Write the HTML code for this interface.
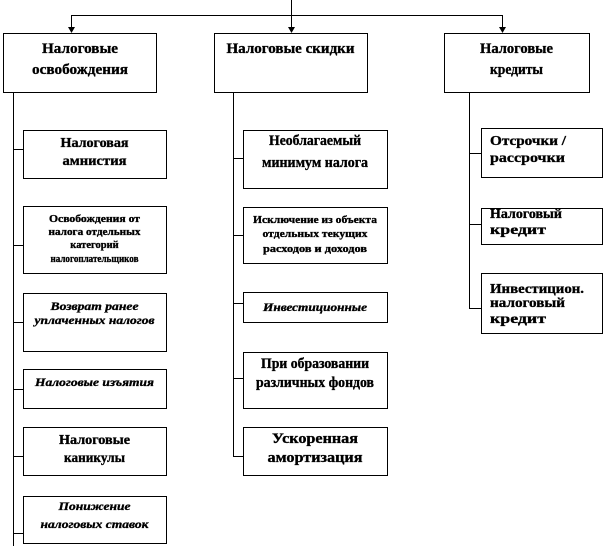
<!DOCTYPE html>
<html><head><meta charset="utf-8">
<style>
html,body{margin:0;padding:0;background:#fff;}
svg{display:block;}
text{font-family:"Liberation Serif","DejaVu Serif",serif;font-weight:bold;fill:#000;stroke:#000;stroke-width:0.35;}
.c{text-anchor:middle;}
.i{font-style:italic;}
</style></head>
<body>
<svg width="605" height="546" viewBox="0 0 605 546" xmlns="http://www.w3.org/2000/svg">
<rect x="0" y="0" width="605" height="546" fill="#fff"/>
<g stroke="#000" stroke-width="1" fill="none">
  <path d="M291.5 0 V28"/>
  <path d="M71 15.5 H503"/>
  <path d="M71.5 15 V28"/>
  <path d="M502.5 15 V28"/>
  <rect x="3.5" y="33.5" width="153" height="59"/>
  <rect x="214.5" y="33.5" width="153" height="59"/>
  <rect x="444.5" y="33.5" width="145" height="59"/>
  <path d="M13.5 92 V546"/>
  <path d="M233.5 92 V456.5"/>
  <path d="M469.5 92 V308.5"/>
  <path d="M13 149.5 H23"/>
  <path d="M13 245.5 H23"/>
  <path d="M13 322.5 H23"/>
  <path d="M13 389.5 H23"/>
  <path d="M13 456.5 H23"/>
  <path d="M13 533.5 H23"/>
  <path d="M233 158.5 H243"/>
  <path d="M233 235.5 H243"/>
  <path d="M233 303.5 H243"/>
  <path d="M233 378.5 H243"/>
  <path d="M233 456.5 H243"/>
  <path d="M469 153.5 H481"/>
  <path d="M469 224.5 H481"/>
  <path d="M469 308.5 H481"/>
  <rect x="23.5" y="130.5" width="143" height="48"/>
  <rect x="23.5" y="206.5" width="143" height="67"/>
  <rect x="23.5" y="293.5" width="143" height="58"/>
  <rect x="23.5" y="369.5" width="143" height="39"/>
  <rect x="23.5" y="427.5" width="143" height="48"/>
  <rect x="23.5" y="496.5" width="143" height="47"/>
  <rect x="243.5" y="130.5" width="144" height="58"/>
  <rect x="243.5" y="207.5" width="144" height="56"/>
  <rect x="243.5" y="292.5" width="144" height="30"/>
  <rect x="243.5" y="352.5" width="144" height="56"/>
  <rect x="243.5" y="427.5" width="144" height="48"/>
  <rect x="481.5" y="128.5" width="121" height="49"/>
  <rect x="481.5" y="208.5" width="121" height="36"/>
  <rect x="481.5" y="273.5" width="121" height="60"/>
</g>
<g fill="#000">
  <polygon points="68,27 75,27 71.5,33"/>
  <polygon points="288,27 295,27 291.5,33"/>
  <polygon points="499,27 506,27 502.5,33"/>
</g>

<text class="c" x="80" y="53" font-size="15" textLength="76" lengthAdjust="spacingAndGlyphs">Налоговые</text>
<text class="c" x="80" y="74" font-size="15" textLength="96" lengthAdjust="spacingAndGlyphs">освобождения</text>
<text class="c" x="290.5" y="53" font-size="15" textLength="128" lengthAdjust="spacingAndGlyphs">Налоговые скидки</text>
<text class="c" x="516.5" y="53" font-size="15" textLength="73" lengthAdjust="spacingAndGlyphs">Налоговые</text>
<text class="c" x="516.5" y="74" font-size="15" textLength="53" lengthAdjust="spacingAndGlyphs">кредиты</text>

<text class="c" x="94.5" y="147" font-size="14" textLength="68" lengthAdjust="spacingAndGlyphs">Налоговая</text>
<text class="c" x="94.5" y="165" font-size="14" textLength="64" lengthAdjust="spacingAndGlyphs">амнистия</text>

<text class="c" x="94.5" y="222" font-size="10.5" textLength="91" lengthAdjust="spacingAndGlyphs">Освобождения от</text>
<text class="c" x="94.5" y="235" font-size="10.5" textLength="92" lengthAdjust="spacingAndGlyphs">налога отдельных</text>
<text class="c" x="94.5" y="248" font-size="10.5">категорий</text>
<text class="c" x="94.5" y="262" font-size="10.5" textLength="88" lengthAdjust="spacingAndGlyphs">налогоплательщиков</text>

<text class="c i" x="94.5" y="310" font-size="12" textLength="88" lengthAdjust="spacingAndGlyphs">Возврат ранее</text>
<text class="c i" x="94.5" y="324" font-size="12" textLength="120" lengthAdjust="spacingAndGlyphs">уплаченных налогов</text>

<text class="c i" x="94.5" y="386" font-size="12" textLength="119" lengthAdjust="spacingAndGlyphs">Налоговые изъятия</text>

<text class="c" x="94.5" y="444" font-size="14" textLength="71" lengthAdjust="spacingAndGlyphs">Налоговые</text>
<text class="c" x="94.5" y="462" font-size="14" textLength="61" lengthAdjust="spacingAndGlyphs">каникулы</text>

<text class="c i" x="94.5" y="510" font-size="12" textLength="72" lengthAdjust="spacingAndGlyphs">Понижение</text>
<text class="c i" x="94.5" y="528" font-size="12" textLength="108" lengthAdjust="spacingAndGlyphs">налоговых ставок</text>

<text class="c" x="315" y="145" font-size="14.5" textLength="92" lengthAdjust="spacingAndGlyphs">Необлагаемый</text>
<text class="c" x="315" y="167" font-size="14.5" textLength="106" lengthAdjust="spacingAndGlyphs">минимум налога</text>

<text class="c" x="315" y="223" font-size="11" textLength="124" lengthAdjust="spacingAndGlyphs">Исключение из объекта</text>
<text class="c" x="315" y="237" font-size="11" textLength="105" lengthAdjust="spacingAndGlyphs">отдельных текущих</text>
<text class="c" x="315" y="252" font-size="11" textLength="104" lengthAdjust="spacingAndGlyphs">расходов и доходов</text>

<text class="c i" x="315" y="311" font-size="12" textLength="104" lengthAdjust="spacingAndGlyphs">Инвестиционные</text>

<text class="c" x="315" y="368" font-size="14.5" textLength="108" lengthAdjust="spacingAndGlyphs">При образовании</text>
<text class="c" x="315" y="387" font-size="14.5" textLength="118" lengthAdjust="spacingAndGlyphs">различных фондов</text>

<text class="c" x="315" y="443" font-size="14.5" textLength="86" lengthAdjust="spacingAndGlyphs">Ускоренная</text>
<text class="c" x="315" y="462" font-size="14.5" textLength="95" lengthAdjust="spacingAndGlyphs">амортизация</text>

<text x="490" y="145" font-size="14" textLength="76" lengthAdjust="spacingAndGlyphs">Отсрочки /</text>
<text x="490" y="162" font-size="14" textLength="75" lengthAdjust="spacingAndGlyphs">рассрочки</text>

<text x="490" y="218" font-size="14" textLength="72" lengthAdjust="spacingAndGlyphs">Налоговый</text>
<text x="490" y="234" font-size="14" textLength="56" lengthAdjust="spacingAndGlyphs">кредит</text>

<text x="490" y="293" font-size="14" textLength="94" lengthAdjust="spacingAndGlyphs">Инвестицион.</text>
<text x="490" y="307" font-size="14" textLength="75" lengthAdjust="spacingAndGlyphs">налоговый</text>
<text x="490" y="323" font-size="14" textLength="56" lengthAdjust="spacingAndGlyphs">кредит</text>
</svg>
</body></html>
